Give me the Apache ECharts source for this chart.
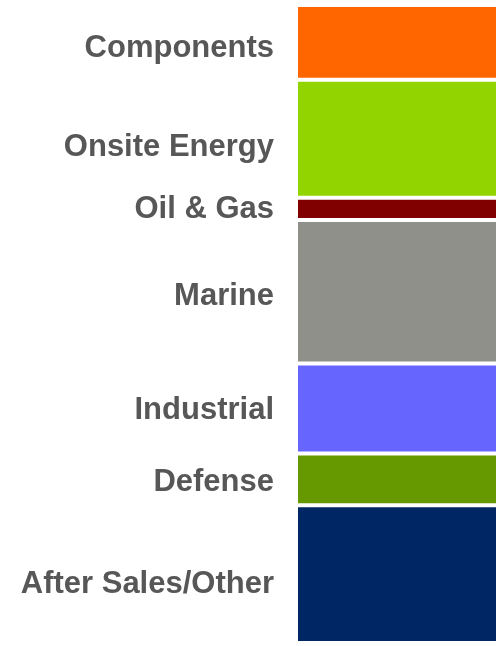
<!DOCTYPE html>
<html>
<head>
<meta charset="utf-8">
<style>html,body{margin:0;padding:0;background:#fff;}#chart{width:498px;height:646px;}</style>
<script src="https://cdn.jsdelivr.net/npm/echarts@6/dist/echarts.min.js"></script>
</head>
<body>
<div id="chart"></div>
<script>
// Data (top to bottom), share of total (%)
const segmentNames = ['Components', 'Onsite Energy', 'Oil & Gas', 'Marine', 'Industrial', 'Defense', 'After Sales/Other'];
const segmentValues = [11.7, 18.5, 3.5, 22.5, 14.1, 8.1, 21.6];
const categories = ['Total'];
// Styles
const segmentColors = ['#FF6600', '#92D400', '#800000', '#8F908A', '#6666FF', '#669900', '#002663'];
const labelShiftY = [6, 9, 1, 5, 2, 3, 10];

const chart = echarts.init(document.getElementById('chart'), null, {renderer: 'canvas'});
const series = segmentNames.map((name, i) => ({
  name: name,
  type: 'bar',
  stack: 'total',
  barWidth: '100%',
  data: [segmentValues[i]],
  itemStyle: {color: segmentColors[i], borderColor: '#ffffff', borderWidth: 2},
  label: {
    show: true,
    position: 'left',
    distance: 22,
    offset: [0, labelShiftY[i]],
    formatter: name,
    color: '#575757',
    fontSize: 31,
    fontWeight: 'bold',
    fontFamily: '"Liberation Sans", Arial, sans-serif'
  },
  emphasis: {disabled: true},
  animation: false
}));

chart.setOption({
  animation: false,
  grid: {left: 296, right: -10, top: 5, bottom: 3, containLabel: false},
  xAxis: {type: 'category', data: categories, show: false},
  yAxis: {type: 'value', min: 0, max: 100, inverse: true, show: false},
  series: series
});
</script>
</body>
</html>
